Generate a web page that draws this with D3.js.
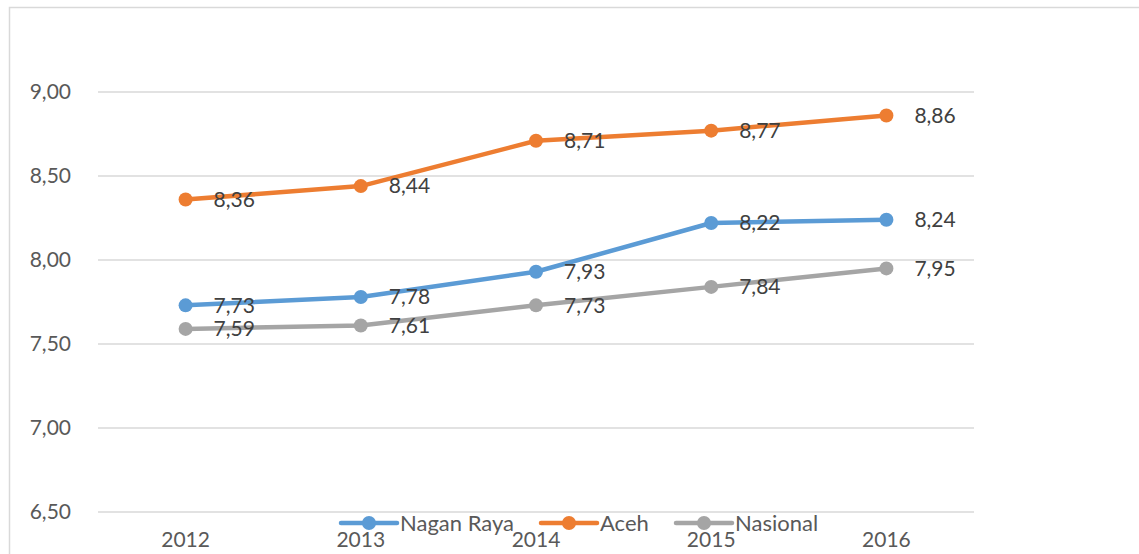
<!DOCTYPE html>
<html>
<head>
<meta charset="utf-8">
<script src="https://cdn.jsdelivr.net/npm/d3@7"></script>
<style>
  body { margin: 0; background: #fff; }
  svg text { font-family: Lato, "Open Sans", sans-serif; }
</style>
</head>
<body>
<svg id="chart" width="1139" height="554"></svg>
<script>
// years on the x axis
const years = ["2012", "2013", "2014", "2015", "2016"];
// series values
const naganRaya = [7.73, 7.78, 7.93, 8.22, 8.24];
const aceh = [8.36, 8.44, 8.71, 8.77, 8.86];
const nasional = [7.59, 7.61, 7.73, 7.84, 7.95];
// y ticks
const yTicks = [6.5, 7.0, 7.5, 8.0, 8.5, 9.0];

const series = [
  { name: "Nagan Raya", values: naganRaya, color: "#5B9BD5" },
  { name: "Aceh", values: aceh, color: "#ED7D31" },
  { name: "Nasional", values: nasional, color: "#A5A5A5" }
];

const svg = d3.select("#chart");
const fmt = v => d3.format(".2f")(v).replace(".", ",");

// outer chart border (continues past the window)
svg.append("rect")
  .attr("x", 9.5).attr("y", 7.5)
  .attr("width", 1300).attr("height", 700)
  .attr("fill", "none").attr("stroke", "#d9d9d9").attr("stroke-width", 1.5);

const x = d3.scaleBand().domain(years).range([98, 974]);
const y = d3.scaleLinear().domain([6.5, 9.0]).range([512, 92]);

// gridlines
svg.append("g")
  .selectAll("line")
  .data(yTicks)
  .join("line")
  .attr("x1", 98).attr("x2", 974)
  .attr("y1", d => y(d)).attr("y2", d => y(d))
  .attr("stroke", "#d9d9d9").attr("stroke-width", 1.5);

// y axis labels
const yAxis = svg.append("g")
  .attr("transform", "translate(71,0)")
  .call(d3.axisLeft(y).tickValues(yTicks).tickFormat(fmt).tickSize(0).tickPadding(0));
yAxis.select(".domain").remove();
yAxis.selectAll("text")
  .attr("fill", "#595959").attr("font-size", 21);

// x axis labels
const xAxis = svg.append("g")
  .attr("transform", "translate(0,532)")
  .call(d3.axisBottom(x).tickSize(0).tickPadding(0));
xAxis.select(".domain").remove();
xAxis.selectAll("text")
  .attr("fill", "#595959").attr("font-size", 21);

const line = d3.line()
  .x((d, i) => x(years[i]) + x.bandwidth() / 2)
  .y(d => y(d));

series.forEach(s => {
  const g = svg.append("g");
  g.append("path")
    .datum(s.values)
    .attr("d", line)
    .attr("fill", "none")
    .attr("stroke", s.color)
    .attr("stroke-width", 4.5)
    .attr("stroke-linejoin", "round");
  g.selectAll("circle")
    .data(s.values)
    .join("circle")
    .attr("cx", (d, i) => x(years[i]) + x.bandwidth() / 2)
    .attr("cy", d => y(d))
    .attr("r", 7)
    .attr("fill", s.color);
  g.selectAll("text")
    .data(s.values)
    .join("text")
    .attr("x", (d, i) => x(years[i]) + x.bandwidth() / 2 + 28)
    .attr("y", d => y(d))
    .attr("dy", "0.35em")
    .attr("fill", "#404040")
    .attr("font-size", 21)
    .text(fmt);
});

// legend
const legendX = [341, 541, 676];
const legend = svg.append("g");
series.forEach((s, i) => {
  const lg = legend.append("g").attr("transform", `translate(${legendX[i]},523)`);
  lg.append("line")
    .attr("x1", 0).attr("x2", 56)
    .attr("stroke", s.color).attr("stroke-width", 4.5).attr("stroke-linecap", "round");
  lg.append("circle").attr("cx", 28).attr("r", 7).attr("fill", s.color);
  lg.append("text")
    .attr("x", 59).attr("dy", "0.35em")
    .attr("fill", "#595959").attr("font-size", 22)
    .text(s.name);
});
</script>
</body>
</html>
